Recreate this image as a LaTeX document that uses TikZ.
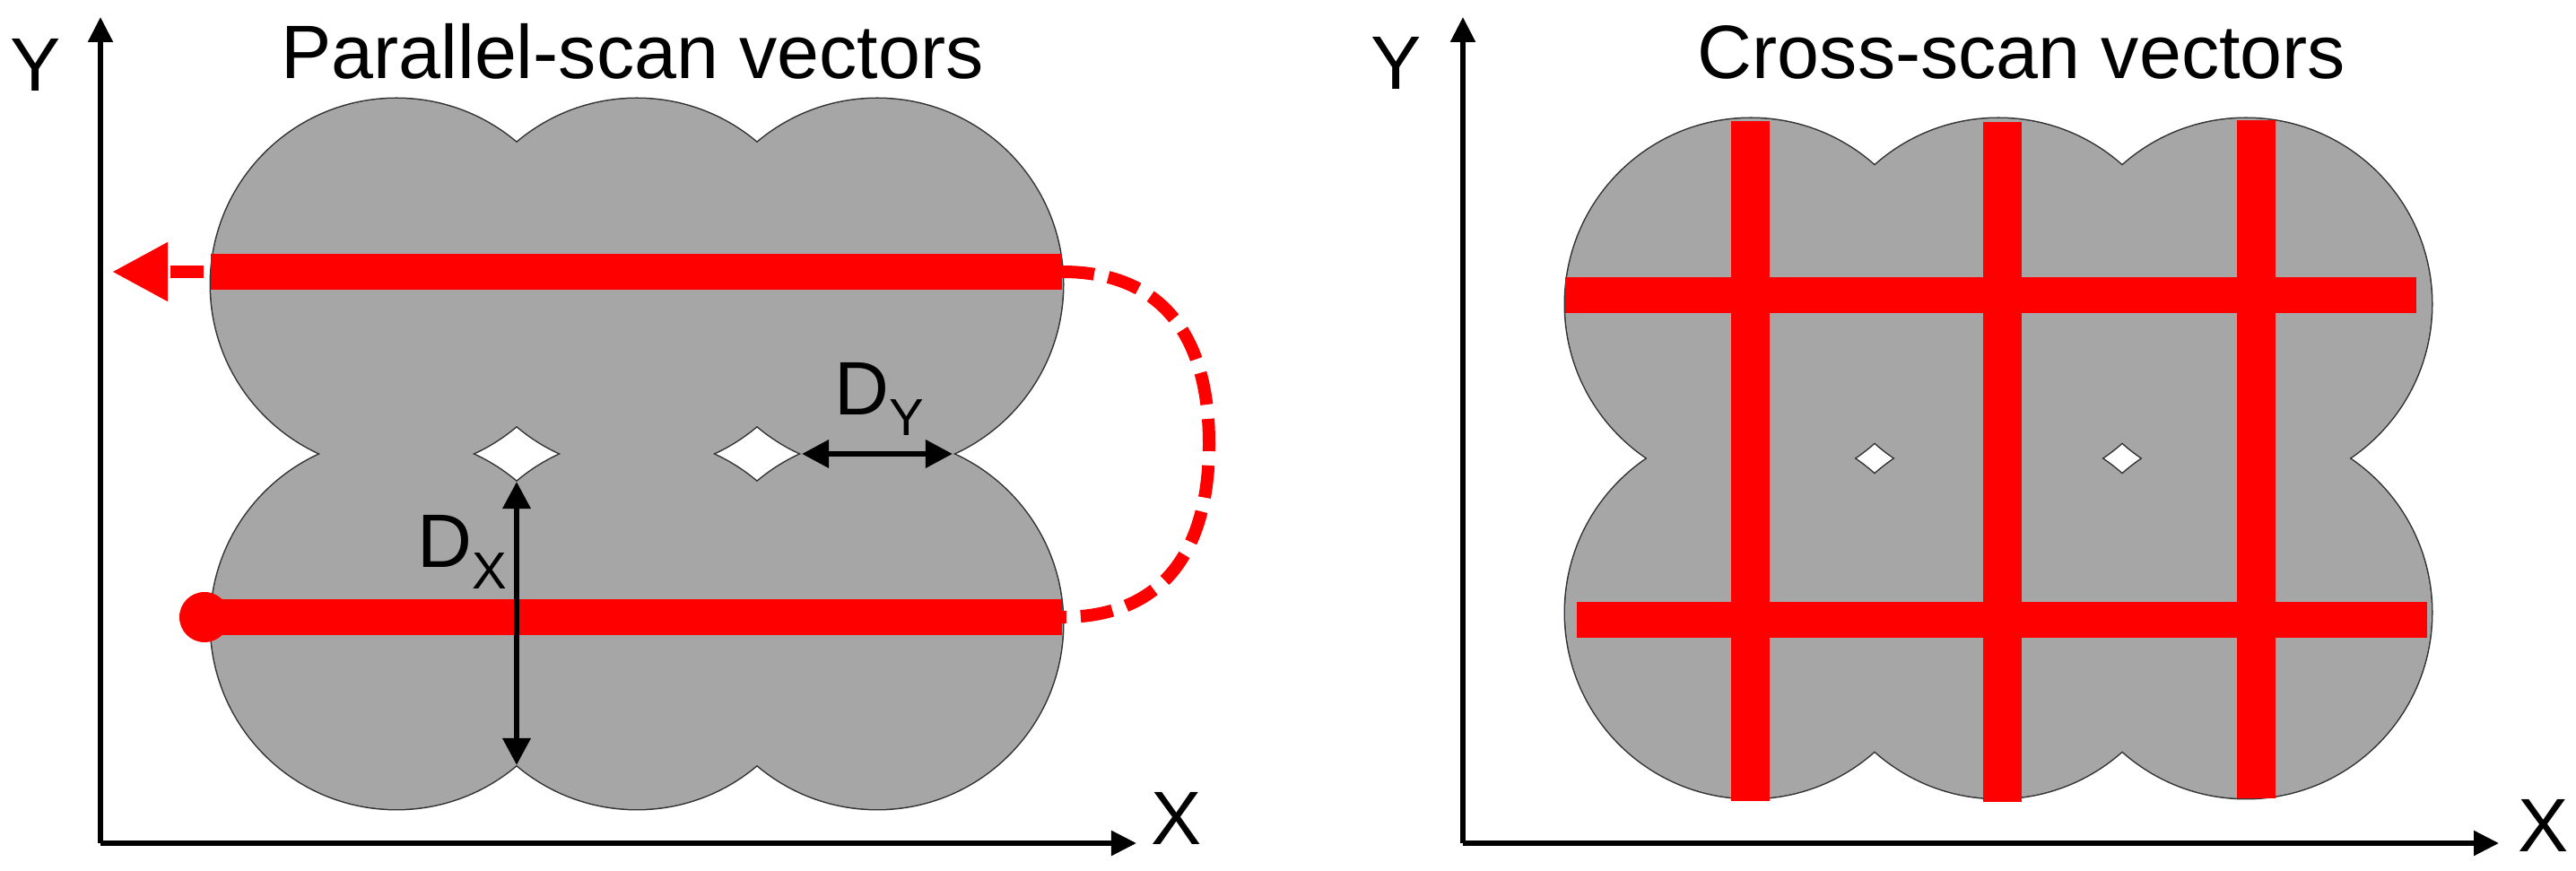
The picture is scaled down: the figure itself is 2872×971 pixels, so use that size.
\documentclass[tikz,border=0pt]{standalone}
\usepackage{fontspec}
\setmainfont{Liberation Sans}
\usetikzlibrary{arrows.meta}
\definecolor{blobgray}{RGB}{166,166,166}
\definecolor{edgegray}{RGB}{50,50,50}
\begin{document}
\begin{tikzpicture}[x=0.01cm, y=-0.01cm]
\tikzset{
  axis/.style={line width=0.055cm, -{Triangle[length=0.28cm,width=0.27cm]}},
  lbl/.style={font=\fontsize{24}{28}\selectfont, inner sep=0pt},
  blobedge/.style={draw=edgegray, line width=0.03cm},
  scanbar/.style={red, line width=0.40cm},
  crossbar/.style={red, line width=0.43cm},
  dimarrow/.style={line width=0.065cm, {Triangle[length=0.3cm,width=0.3cm]}-{Triangle[length=0.3cm,width=0.3cm]}},
  jump/.style={red, line width=0.14cm, dash pattern=on 0.36cm off 0.16cm},
}
\useasboundingbox (0,0) rectangle (2872,971);

% ---------- left panel ----------
\coordinate (O1) at (112,940);
\coordinate (Y1) at (112,19);
\coordinate (X1) at (1267,940);
\draw[axis] (O1) -- (Y1);
\draw[axis] (O1) -- (X1);

\foreach \cx in {442,710,978} \foreach \cy in {317,695}
  \draw[blobedge] (\cx,\cy) circle[radius=207];
\foreach \cx in {442,710,978} \foreach \cy in {317,695}
  \fill[blobgray] (\cx,\cy) circle[radius=207];

\coordinate (t1) at (235,303);
\coordinate (t2) at (1184,303);
\coordinate (b1) at (228,688);
\coordinate (b2) at (1184,688);
\coordinate (ltip) at (125,303);
\draw[scanbar] (t1) -- (t2);
\draw[scanbar] (b1) -- (b2);
\fill[red] (b1) circle[radius=28];
\draw[red, line width=0.14cm, dash pattern=on 0pt off 0.08cm on 0.37cm off 2cm,
      -{Triangle[length=0.62cm,width=0.62cm]}] (t1) -- (ltip);
\draw[jump] (t2) .. controls (1300,303) and (1348,380) .. (1348,495)
               .. controls (1348,610) and (1300,688) .. (b2);

\coordinate (h1b) at (576,537);
\coordinate (n1) at (576,853);
\coordinate (h2r) at (894,506);
\coordinate (nr) at (1062,506);
\draw[dimarrow] (h1b) -- (n1);
\draw[dimarrow] (h2r) -- (nr);

\node[lbl, anchor=base] (title1) at (705,88) {Parallel-scan vectors};
\node[lbl, anchor=base] (ylab1) at (40,102) {Y};
\node[lbl, anchor=base] (xlab1) at (1312,942) {X};
\node[lbl, anchor=base] (dxlab) at (515,633) {D\raisebox{-6.8pt}{\fontsize{16.5}{17}\selectfont X}};
\node[lbl, anchor=base] (dylab) at (980,463) {D\raisebox{-6.3pt}{\fontsize{16.5}{17}\selectfont Y}};

% ---------- right panel ----------
\coordinate (O2) at (1631,940);
\coordinate (Y2) at (1631,19);
\coordinate (X2) at (2786,940);
\draw[axis] (O2) -- (Y2);
\draw[axis] (O2) -- (X2);

\foreach \cx in {1952,2228,2504} \foreach \cy in {339,683}
  \draw[blobedge] (\cx,\cy) circle[radius=207];
\foreach \cx in {1952,2228,2504} \foreach \cy in {339,683}
  \fill[blobgray] (\cx,\cy) circle[radius=207];

\coordinate (v1a) at (1951,135); \coordinate (v1b) at (1951,893);
\coordinate (v2a) at (2232,136); \coordinate (v2b) at (2232,894);
\coordinate (v3a) at (2515,134); \coordinate (v3b) at (2515,890);
\coordinate (r1a) at (1745,329); \coordinate (r1b) at (2694,329);
\coordinate (r2a) at (1758,691); \coordinate (r2b) at (2706,691);
\draw[crossbar] (v1a) -- (v1b);
\draw[crossbar] (v2a) -- (v2b);
\draw[crossbar] (v3a) -- (v3b);
\draw[scanbar] (r1a) -- (r1b);
\draw[scanbar] (r2a) -- (r2b);

\node[lbl, anchor=base] (title2) at (2254,88) {Cross-scan vectors};
\node[lbl, anchor=base] (ylab2) at (1557,100) {Y};
\node[lbl, anchor=base] (xlab2) at (2836,950) {X};
\end{tikzpicture}
\end{document}
